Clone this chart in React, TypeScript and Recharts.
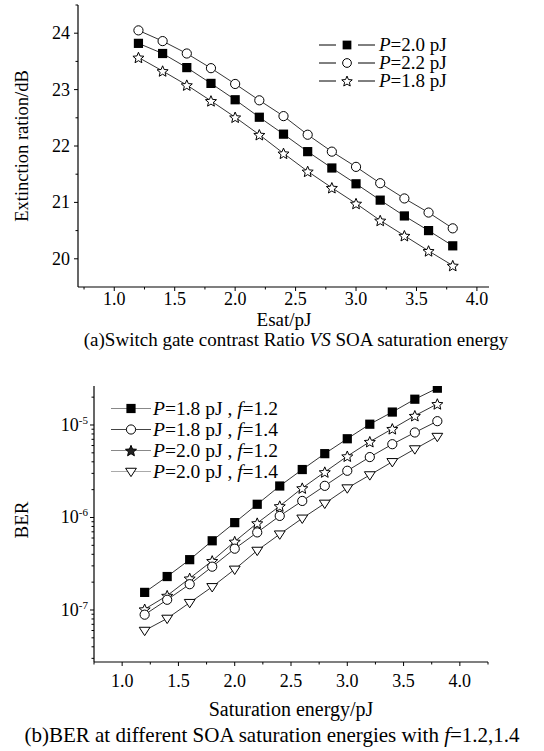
import React from 'react';
import { LineChart, Line, XAxis, YAxis, Legend } from 'recharts';

// ---------- data: chart (a) ----------
const esat = [1.2, 1.4, 1.6, 1.8, 2.0, 2.2, 2.4, 2.6, 2.8, 3.0, 3.2, 3.4, 3.6, 3.8];
const erP20 = [23.82, 23.64, 23.39, 23.11, 22.82, 22.51, 22.21, 21.9, 21.61, 21.33, 21.04, 20.76, 20.5, 20.23];
const erP22 = [24.05, 23.86, 23.64, 23.38, 23.1, 22.81, 22.53, 22.2, 21.9, 21.63, 21.34, 21.07, 20.82, 20.54];
const erP18 = [23.57, 23.33, 23.08, 22.8, 22.51, 22.2, 21.87, 21.55, 21.26, 20.98, 20.68, 20.41, 20.14, 19.88];
const topXTicks = [0.75, 1.0, 1.25, 1.5, 1.75, 2.0, 2.25, 2.5, 2.75, 3.0, 3.25, 3.5, 3.75, 4.0];
const topYTicks = [20, 20.5, 21, 21.5, 22, 22.5, 23, 23.5, 24, 24.5];

// ---------- data: chart (b) ----------
const satEnergy = [1.2, 1.4, 1.6, 1.8, 2.0, 2.2, 2.4, 2.6, 2.8, 3.0, 3.2, 3.4, 3.6, 3.8];
const berP18f12 = [1.55e-7, 2.3e-7, 3.5e-7, 5.6e-7, 8.8e-7, 1.39e-6, 2.19e-6, 3.3e-6, 4.9e-6, 7.1e-6, 1.02e-5, 1.38e-5, 1.9e-5, 2.5e-5];
const berP18f14 = [8.9e-8, 1.29e-7, 1.9e-7, 2.94e-7, 4.6e-7, 6.9e-7, 1.04e-6, 1.51e-6, 2.2e-6, 3.2e-6, 4.5e-6, 6.2e-6, 8.3e-6, 1.1e-5];
const berP20f12 = [1.02e-7, 1.43e-7, 2.2e-7, 3.4e-7, 5.5e-7, 8.7e-7, 1.33e-6, 2.08e-6, 3.1e-6, 4.6e-6, 6.6e-6, 9.1e-6, 1.26e-5, 1.69e-5];
const berP20f14 = [6.0e-8, 8.1e-8, 1.2e-7, 1.78e-7, 2.75e-7, 4.4e-7, 6.6e-7, 9.8e-7, 1.42e-6, 2.08e-6, 2.88e-6, 4.0e-6, 5.5e-6, 7.5e-6];
const botXTicks = [0.75, 1.0, 1.25, 1.5, 1.75, 2.0, 2.25, 2.5, 2.75, 3.0, 3.25, 3.5, 3.75, 4.0, 4.25];
const berDecades = [-8, -7, -6, -5];
const berDomain = [2.74e-8, 2.64e-5];

const FONT = '"Liberation Serif", "Times New Roman", serif';

const topData = esat.map((x, i) => ({ x, p20: erP20[i], p22: erP22[i], p18: erP18[i] }));
const botData = satEnergy.map((x, i) => ({ x, a: berP18f12[i], b: berP18f14[i], c: berP20f12[i], d: berP20f14[i] }));

const berTicks: number[] = [];
berDecades.forEach((d) => {
  for (let k = 1; k <= 9; k++) {
    const v = k * Math.pow(10, d);
    if (v >= berDomain[0] && v <= berDomain[1]) berTicks.push(v);
  }
});

// ---------- markers ----------
const starPath = (cx: number, cy: number, R: number) => {
  const r = R * 0.45;
  let d = '';
  for (let i = 0; i < 10; i++) {
    const rad = i % 2 ? r : R;
    const a = -Math.PI / 2 + (i * Math.PI) / 5;
    d += (i ? 'L' : 'M') + (cx + rad * Math.cos(a)).toFixed(2) + ',' + (cy + rad * Math.sin(a)).toFixed(2);
  }
  return d + 'Z';
};

type Shape = 'square' | 'circle' | 'star' | 'tri' | 'starFilled';

const Marker = ({ shape, cx, cy, s = 1 }: { shape: Shape; cx: number; cy: number; s?: number }) => {
  if (shape === 'square') return <rect x={cx - 4.6 * s} y={cy - 4.6 * s} width={9.2 * s} height={9.2 * s} fill="#000" />;
  if (shape === 'circle') return <circle cx={cx} cy={cy} r={4.6 * s} fill="#fff" stroke="#000" strokeWidth={1} />;
  if (shape === 'star') return <path d={starPath(cx, cy + 0.6 * s, 5.8 * s)} fill="#fff" stroke="#000" strokeWidth={1} />;
  if (shape === 'starFilled') return <path d={starPath(cx, cy + 0.6 * s, 5.8 * s)} fill="#222" stroke="#000" strokeWidth={1} />;
  const R = 5.4 * s;
  return (
    <path
      d={`M${cx - R},${cy - R * 0.6}L${cx + R},${cy - R * 0.6}L${cx},${cy + R * 0.95}Z`}
      fill="#fff"
      stroke="#000"
      strokeWidth={1}
    />
  );
};

const dotFor = (shape: Shape) => (p: any) => (
  <Marker key={`${shape}-${p.index}`} shape={shape} cx={p.cx} cy={p.cy} />
);

// ---------- ticks ----------
const isHalf = (v: number) => Math.abs(v * 2 - Math.round(v * 2)) < 1e-6;

const XTick = (props: any) => {
  const { x, y, payload, labelDy = 19 } = props;
  const v = payload.value as number;
  const major = isHalf(v) && v >= 1 && v <= 4;
  return (
    <g>
      <line x1={x} x2={x} y1={y} y2={y + (major ? 4 : 2.5)} stroke="#000" strokeWidth={1} />
      {major && (
        <text x={x} y={y + labelDy} textAnchor="middle" fontFamily={FONT} fontSize={18} fill="#000">
          {v.toFixed(1)}
        </text>
      )}
    </g>
  );
};

const TopYTick = (props: any) => {
  const { x, y, payload } = props;
  const v = payload.value as number;
  const major = Number.isInteger(v);
  return (
    <g>
      <line x1={x} x2={x - (major ? 4 : 2.5)} y1={y} y2={y} stroke="#000" strokeWidth={1} />
      {major && (
        <text x={x - 8} y={y + 6} textAnchor="end" fontFamily={FONT} fontSize={18} fill="#000">
          {v}
        </text>
      )}
    </g>
  );
};

const LogYTick = (props: any) => {
  const { x, y, payload } = props;
  const v = payload.value as number;
  const e = Math.round(Math.log10(v));
  const major = Math.abs(v - Math.pow(10, e)) / v < 1e-6;
  return (
    <g>
      <line x1={x} x2={x - (major ? 4 : 2.5)} y1={y} y2={y} stroke="#000" strokeWidth={1} />
      {major && (
        <text x={x - 6} y={y + 6} textAnchor="end" fontFamily={FONT} fontSize={18} fill="#000">
          10
          <tspan dy={-7} fontSize={11}>
            {e}
          </tspan>
        </text>
      )}
    </g>
  );
};

// ---------- legends ----------
const legendTop: { shape: Shape; label: string }[] = [
  { shape: 'square', label: '=2.0 pJ' },
  { shape: 'circle', label: '=2.2 pJ' },
  { shape: 'star', label: '=1.8 pJ' },
];

const legendBot: { shape: Shape; p: string; f: string; color: string }[] = [
  { shape: 'square', p: '=1.8 pJ , ', f: '=1.2', color: '#888' },
  { shape: 'circle', p: '=1.8 pJ , ', f: '=1.4', color: '#444' },
  { shape: 'starFilled', p: '=2.0 pJ , ', f: '=1.2', color: '#888' },
  { shape: 'tri', p: '=2.0 pJ , ', f: '=1.4', color: '#aaa' },
];

const TopLegend = () => (
  <div style={{ fontFamily: FONT, fontSize: 19, color: '#000', lineHeight: '18px' }}>
    {legendTop.map((it) => (
      <div key={it.label} style={{ display: 'flex', alignItems: 'center', height: 18 }}>
        <svg width={60} height={18}>
          <line x1={0} x2={17} y1={9} y2={9} stroke="#000" strokeWidth={1} />
          <line x1={39} x2={56} y1={9} y2={9} stroke="#000" strokeWidth={1} />
          <Marker shape={it.shape} cx={28} cy={9} s={0.95} />
        </svg>
        <span style={{ whiteSpace: 'nowrap' }}>
          <i>P</i>
          {it.label}
        </span>
      </div>
    ))}
  </div>
);

const BotLegend = () => (
  <div style={{ fontFamily: FONT, fontSize: 19.5, color: '#000', lineHeight: '21px' }}>
    {legendBot.map((it, i) => (
      <div key={i} style={{ display: 'flex', alignItems: 'center', height: 21 }}>
        <svg width={42} height={21}>
          <line x1={0} x2={40} y1={10.5} y2={10.5} stroke={it.color} strokeWidth={1.2} />
          <Marker shape={it.shape} cx={20} cy={10.5} s={1} />
        </svg>
        <span style={{ whiteSpace: 'nowrap' }}>
          <i>P</i>
          {it.p}
          <i>f</i>
          {it.f}
        </span>
      </div>
    ))}
  </div>
);

const textStyle: React.CSSProperties = {
  position: 'absolute',
  fontFamily: FONT,
  color: '#000',
  whiteSpace: 'nowrap',
  lineHeight: '20px',
  textAlign: 'center',
};

export default function App() {
  return (
    <div style={{ position: 'absolute', left: 0, top: 0, width: 544, height: 751, background: '#fff', overflow: 'hidden' }}>
      {/* (a) */}
      <div style={{ position: 'absolute', left: 0, top: 0 }}>
        <LineChart width={544} height={320} data={topData} margin={{ top: 5, right: 55, bottom: 0, left: 0 }}>
          <XAxis
            dataKey="x"
            type="number"
            domain={[0.7, 4.1]}
            ticks={topXTicks}
            interval={0}
            tick={<XTick labelDy={18} />}
            tickLine={false}
            tickSize={0}
            tickMargin={0}
            height={33}
            axisLine={{ stroke: '#000', strokeWidth: 1.2 }}
            allowDataOverflow
          />
          <YAxis
            type="number"
            domain={[19.5, 24.5]}
            ticks={topYTicks}
            interval={0}
            tick={<TopYTick />}
            tickLine={false}
            tickSize={0}
            tickMargin={0}
            width={78}
            axisLine={{ stroke: '#000', strokeWidth: 1.2 }}
            allowDataOverflow
          />
          <Legend
            layout="vertical"
            verticalAlign="middle"
            align="center"
            content={<TopLegend />}
            wrapperStyle={{ position: 'absolute', top: 36, left: 319, width: 200 }}
          />
          <Line dataKey="p20" name="P=2.0 pJ" stroke="#000" strokeWidth={0.8} dot={dotFor('square')} isAnimationActive={false} />
          <Line dataKey="p22" name="P=2.2 pJ" stroke="#000" strokeWidth={0.8} dot={dotFor('circle')} isAnimationActive={false} />
          <Line dataKey="p18" name="P=1.8 pJ" stroke="#000" strokeWidth={0.8} dot={dotFor('star')} isAnimationActive={false} />
        </LineChart>
      </div>
      <div
        style={{
          ...textStyle,
          fontSize: 18.5,
          left: 22,
          top: 146,
          transform: 'translate(-50%, -50%) rotate(-90deg)',
        }}
      >
        Extinction ration/dB
      </div>
      <div style={{ ...textStyle, fontSize: 19, left: 184, width: 200, top: 310 }}>Esat/pJ</div>
      <div style={{ ...textStyle, fontSize: 19, left: 46, width: 500, top: 330 }}>
        (a)Switch gate contrast Ratio <i>VS</i> SOA saturation energy
      </div>

      {/* (b) */}
      <div style={{ position: 'absolute', left: 0, top: 380 }}>
        <LineChart width={544} height={330} data={botData} margin={{ top: 6, right: 56, bottom: 0, left: 0 }}>
          <XAxis
            dataKey="x"
            type="number"
            domain={[0.75, 4.25]}
            ticks={botXTicks}
            interval={0}
            tick={<XTick labelDy={25} />}
            tickLine={false}
            tickSize={0}
            tickMargin={0}
            height={48}
            axisLine={{ stroke: '#000', strokeWidth: 1.2 }}
            allowDataOverflow
          />
          <YAxis
            type="number"
            scale="log"
            domain={berDomain}
            ticks={berTicks}
            interval={0}
            tick={<LogYTick />}
            tickLine={false}
            tickSize={0}
            tickMargin={0}
            width={94}
            axisLine={{ stroke: '#000', strokeWidth: 1.2 }}
            allowDataOverflow
          />
          <Legend
            layout="vertical"
            verticalAlign="middle"
            align="center"
            content={<BotLegend />}
            wrapperStyle={{ position: 'absolute', top: 18, left: 111, width: 240 }}
          />
          <Line dataKey="a" name="P=1.8 pJ, f=1.2" stroke="#000" strokeWidth={0.8} dot={dotFor('square')} isAnimationActive={false} />
          <Line dataKey="c" name="P=2.0 pJ, f=1.2" stroke="#000" strokeWidth={0.8} dot={dotFor('star')} isAnimationActive={false} />
          <Line dataKey="b" name="P=1.8 pJ, f=1.4" stroke="#000" strokeWidth={0.8} dot={dotFor('circle')} isAnimationActive={false} />
          <Line dataKey="d" name="P=2.0 pJ, f=1.4" stroke="#000" strokeWidth={0.8} dot={dotFor('tri')} isAnimationActive={false} />
        </LineChart>
      </div>
      <div
        style={{
          ...textStyle,
          fontSize: 19,
          left: 22,
          top: 520,
          transform: 'translate(-50%, -50%) rotate(-90deg)',
        }}
      >
        BER
      </div>
      <div style={{ ...textStyle, fontSize: 20, left: 141, width: 300, top: 699 }}>Saturation energy/pJ</div>
      <div style={{ ...textStyle, fontSize: 21, left: 22, width: 500, top: 725 }}>
        (b)BER at different SOA saturation energies with <i>f</i>=1.2,1.4
      </div>
    </div>
  );
}
